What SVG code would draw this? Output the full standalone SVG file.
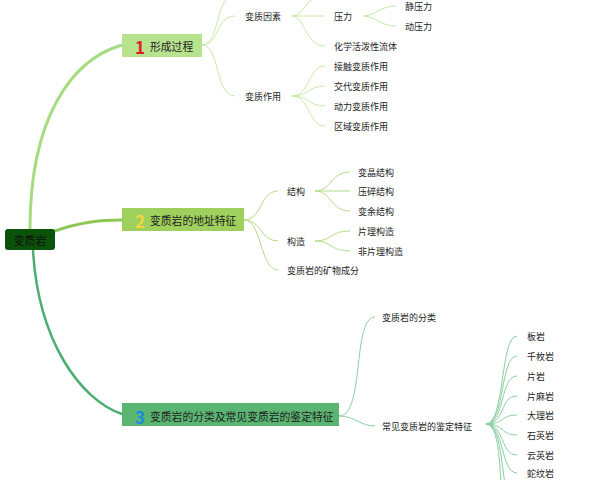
<svg xmlns="http://www.w3.org/2000/svg" width="600" height="480" viewBox="0 0 600 480">
<style>
text{font-family:"Noto Sans CJK SC","Liberation Sans",sans-serif;fill:#222}
.l{font-size:9px;dominant-baseline:central}
.b{font-size:10.8px;dominant-baseline:central}
.n{font-size:17px;font-weight:bold;dominant-baseline:central}
.c1{fill:none;stroke:#c8eaa8;stroke-width:1}
.c2{fill:none;stroke:#b4dc88;stroke-width:1}
.c3{fill:none;stroke:#8ccfa0;stroke-width:1}
</style>
<rect width="600" height="480" fill="#fff"/>
<g id="connectors">
<path d="M30,229 C30,120 70,60 122,45" fill="none" stroke="#a6dc80" stroke-width="3"/>
<path d="M52,232 C80,222 100,220 122,220" fill="none" stroke="#8ec854" stroke-width="3"/>
<path d="M33,250 C38,340 80,400 122,414" fill="none" stroke="#4caf70" stroke-width="2.5"/>
<path class="c1" d="M202,45 C220,45 215,-5 235,-5"/>
<path class="c1" d="M202,45 C220,45 215,16 235,16"/>
<path class="c1" d="M202,45 C220,45 215,96 235,96"/>
<path class="c1" d="M292,16 C305,16 305,-5 325,-5"/>
<path class="c1" d="M292,16 L325,16"/>
<path class="c1" d="M292,16 C305,16 305,46 325,46"/>
<path class="c1" d="M363,16 C375,16 380,6 396,6"/>
<path class="c1" d="M363,16 C375,16 380,26 396,26"/>
<path class="c1" d="M292,96 C310,96 308,66 325,66"/>
<path class="c1" d="M292,96 C310,96 308,86 325,86"/>
<path class="c1" d="M292,96 C310,96 308,106 325,106"/>
<path class="c1" d="M292,96 C310,96 308,126 325,126"/>
<path class="c2" d="M244,220 C262,220 260,191 278,191"/>
<path class="c2" d="M244,220 C262,220 260,241 278,241"/>
<path class="c2" d="M244,220 C262,220 260,270 278,270"/>
<path class="c2" d="M315,191 C332,191 330,172 350,172"/>
<path class="c2" d="M315,191 L350,191"/>
<path class="c2" d="M315,191 C332,191 330,211 350,211"/>
<path class="c2" d="M315,241 C332,241 330,231 350,231"/>
<path class="c2" d="M315,241 C332,241 330,251 350,251"/>
<path class="c3" d="M339,416 C365,416 352,317 375,317"/>
<path class="c3" d="M339,416 C355,416 360,426 375,426"/>
<path class="c3" d="M486,424 C505,424 500,336 517,336"/>
<path class="c3" d="M486,424 C505,424 500,356 517,356"/>
<path class="c3" d="M486,424 C505,424 500,376 517,376"/>
<path class="c3" d="M486,424 C505,424 500,396 517,396"/>
<path class="c3" d="M486,424 C505,424 500,415 517,415"/>
<path class="c3" d="M486,424 C505,424 500,435 517,435"/>
<path class="c3" d="M486,424 C505,424 500,455 517,455"/>
<path class="c3" d="M486,424 C505,424 500,473 517,473"/>
<path class="c3" d="M486,424 C505,424 500,490 510,495"/>
<path class="c3" d="M486,424 C503,424 498,490 504,495"/>
</g>
<g id="root"><rect x="5" y="229" width="50" height="21" rx="3" fill="#0b520b"/><text class="b" x="30" y="240" text-anchor="middle" style="fill:#111">变质岩</text></g>
<g id="b1"><rect x="122" y="34" width="80" height="23" fill="#b8e38e"/><text class="n" x="140" y="46" text-anchor="middle" style="fill:#e01b2a">1</text><text class="b" x="150" y="46">形成过程</text></g>
<g id="b2"><rect x="122" y="208" width="122" height="23" fill="#9fcf5c"/><text class="n" x="140" y="220" text-anchor="middle" style="fill:#f5d63a">2</text><text class="b" x="150" y="220">变质岩的地址特征</text></g>
<g id="b3"><rect x="122" y="403" width="217" height="23" fill="#5ab572"/><text class="n" x="140" y="416" text-anchor="middle" style="fill:#1e88e5">3</text><text class="b" x="150" y="416">变质岩的分类及常见变质岩的鉴定特征</text></g>
<g id="leaves">
<text class="l" x="245" y="16">变质因素</text>
<text class="l" x="245" y="96">变质作用</text>
<text class="l" x="334" y="16">压力</text>
<text class="l" x="334" y="46">化学活泼性流体</text>
<text class="l" x="405" y="6">静压力</text>
<text class="l" x="405" y="26">动压力</text>
<text class="l" x="334" y="66">接触变质作用</text>
<text class="l" x="334" y="86">交代变质作用</text>
<text class="l" x="334" y="106">动力变质作用</text>
<text class="l" x="334" y="126">区域变质作用</text>
<text class="l" x="287" y="191">结构</text>
<text class="l" x="287" y="241">构造</text>
<text class="l" x="287" y="270">变质岩的矿物成分</text>
<text class="l" x="358" y="172">变晶结构</text>
<text class="l" x="358" y="191">压碎结构</text>
<text class="l" x="358" y="211">变余结构</text>
<text class="l" x="358" y="231">片理构造</text>
<text class="l" x="358" y="251">非片理构造</text>
<text class="l" x="382" y="317">变质岩的分类</text>
<text class="l" x="382" y="426">常见变质岩的鉴定特征</text>
<text class="l" x="527" y="336">板岩</text>
<text class="l" x="527" y="356">千枚岩</text>
<text class="l" x="527" y="376">片岩</text>
<text class="l" x="527" y="396">片麻岩</text>
<text class="l" x="527" y="415">大理岩</text>
<text class="l" x="527" y="435">石英岩</text>
<text class="l" x="527" y="455">云英岩</text>
<text class="l" x="527" y="473">蛇纹岩</text>
</g>
</svg>
